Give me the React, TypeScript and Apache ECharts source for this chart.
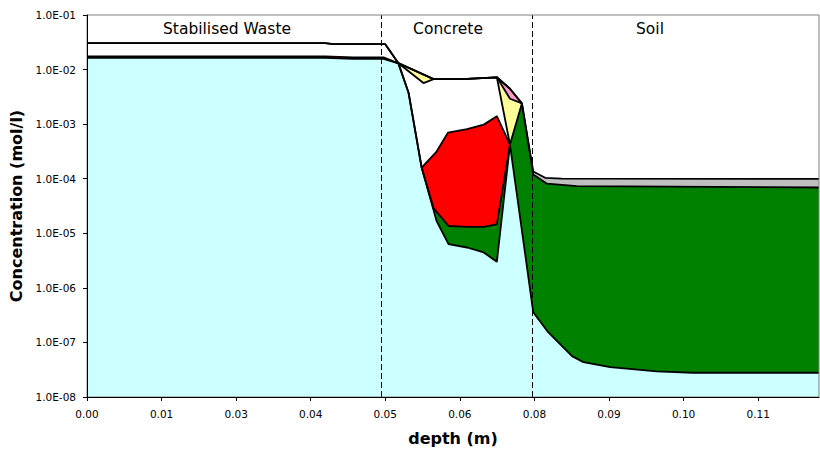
import React, { useEffect, useRef } from "react";
import * as echarts from "echarts";

// Depth axis: ticks every 0.0125 m, labels rounded to two decimals
const xTickStep = 0.0125;
const xTickLabels = ["0.00", "0.01", "0.03", "0.04", "0.05", "0.06", "0.08", "0.09", "0.10", "0.11"];
const depthMax = 0.1227;

// Concentration axis (log scale, one tick per decade)
const yTickLabels = ["1.0E-08", "1.0E-07", "1.0E-06", "1.0E-05", "1.0E-04", "1.0E-03", "1.0E-02", "1.0E-01"];
const concMin = 1e-8;
const concMax = 1e-1;

// Material interfaces (dashed lines) and zone names
const zoneEdges = [0.0494, 0.0747];
const zoneNames = ["Stabilised Waste", "Concrete", "Soil"];

// Upper edge of each stacked band: [depth (m), concentration (mol/l)]
const grayTop: [number, number][] = [
  [0, 3.04e-2], [0.0399, 3.04e-2], [0.0413, 2.92e-2], [0.05, 2.92e-2], [0.0522, 1.31e-2],
  [0.0581, 6.7e-3], [0.0637, 6.78e-3], [0.0687, 7.22e-3], [0.0709, 4.45e-3], [0.0729, 2.4e-3],
  [0.0748, 1.36e-4], [0.0768, 1.04e-4], [0.0796, 1.0e-4], [0.1227, 9.9e-5],
];
const pinkTop: [number, number][] = [
  [0.0687, 7.22e-3], [0.0709, 4.45e-3], [0.0729, 2.4e-3],
];
const yellowTop: [number, number][] = [
  [0.0522, 1.31e-2], [0.0581, 6.7e-3], [0.0637, 6.78e-3], [0.0687, 7.22e-3], [0.0709, 2.92e-3],
  [0.0729, 2.4e-3],
];
const whiteTop: [number, number][] = [
  [0, 3.04e-2], [0.0399, 3.04e-2], [0.0413, 2.92e-2], [0.05, 2.92e-2], [0.0522, 1.31e-2],
  [0.0564, 5.66e-3], [0.0581, 6.7e-3], [0.0637, 6.78e-3], [0.0687, 7.22e-3], [0.0709, 4.23e-4],
];
const redTop: [number, number][] = [
  [0, 1.75e-2], [0.0399, 1.75e-2], [0.0446, 1.67e-2], [0.0497, 1.67e-2], [0.0522, 1.3e-2],
  [0.0539, 3.76e-3], [0.0561, 1.59e-4], [0.0586, 3.15e-4], [0.0605, 7.0e-4], [0.0637, 8.11e-4],
  [0.0665, 9.8e-4], [0.0687, 1.4e-3], [0.0709, 4.23e-4],
];
const greenTop: [number, number][] = [
  [0.0561, 1.59e-4], [0.0581, 2.87e-5], [0.0606, 1.36e-5], [0.0637, 1.31e-5], [0.0665, 1.31e-5],
  [0.0687, 1.46e-5], [0.0709, 4.23e-4], [0.0729, 2.4e-3], [0.0748, 1.2e-4], [0.0771, 8.1e-5],
  [0.0821, 7.3e-5], [0.1227, 6.9e-5],
];
const cyanTop: [number, number][] = [
  [0, 1.64e-2], [0.0399, 1.64e-2], [0.0446, 1.57e-2], [0.0497, 1.57e-2], [0.0522, 1.3e-2],
  [0.0539, 3.76e-3], [0.0561, 1.59e-4], [0.0586, 1.68e-5], [0.0606, 6.31e-6], [0.0637, 5.49e-6],
  [0.0665, 4.45e-6], [0.0687, 3.0e-6], [0.0709, 4.23e-4], [0.0748, 3.57e-7], [0.0773, 1.54e-7],
  [0.0813, 5.61e-8], [0.0832, 4.36e-8], [0.0877, 3.53e-8], [0.0955, 2.94e-8], [0.1016, 2.78e-8],
  [0.1227, 2.78e-8],
];

// Bands painted from the outermost inwards, each filled down to the axis floor
const bands: { name: string; data: [number, number][]; color: string }[] = [
  { name: "gray", data: grayTop, color: "#C0C0C0" },
  { name: "pink", data: pinkTop, color: "#FF99CC" },
  { name: "yellow", data: yellowTop, color: "#FFFF99" },
  { name: "white", data: whiteTop, color: "#FFFFFF" },
  { name: "red", data: redTop, color: "#FF0000" },
  { name: "green", data: greenTop, color: "#008000" },
  { name: "cyan", data: cyanTop, color: "#CCFFFF" },
];

const FONT = "DejaVu Sans";

export default function App() {
  const ref = useRef<HTMLDivElement>(null);

  useEffect(() => {
    if (!ref.current) return;
    const chart = echarts.init(ref.current, undefined, { renderer: "svg" });

    const series: any[] = bands.map((b) => ({
      name: b.name,
      type: "line",
      data: b.data,
      symbol: "none",
      silent: true,
      lineStyle: { color: "#000", width: 1.8 },
      areaStyle: { color: b.color, opacity: 1, origin: "start" },
    }));

    // Dashed interface lines between the three materials
    series.push({
      name: "interfaces",
      type: "line",
      data: [],
      silent: true,
      markLine: {
        silent: true,
        symbol: "none",
        precision: 4,
        label: { show: false },
        lineStyle: { color: "#000", type: [6, 3], width: 1 },
        data: zoneEdges.map((d) => ({ xAxis: d })),
      },
    });

    const zoneLabelX = [227, 448, 650];
    const tickDepths = xTickLabels.map((_, i) => i * xTickStep);
    const tickConcs = yTickLabels.map((_, i) => Math.pow(10, i - 8));

    chart.setOption({
      animation: false,
      backgroundColor: "#fff",
      grid: {
        left: 87,
        right: 1,
        top: 15,
        bottom: 53,
        show: true,
        z: 10,
        borderColor: "#808080",
        borderWidth: 1,
        backgroundColor: "transparent",
      },
      xAxis: {
        type: "value",
        min: 0,
        max: depthMax,
        interval: xTickStep,
        z: 11,
        name: "depth (m)",
        nameLocation: "middle",
        nameGap: 33,
        nameTextStyle: { fontFamily: FONT, fontWeight: "bold", fontSize: 16, color: "#000" },
        axisLine: { lineStyle: { color: "#000", width: 1 } },
        axisTick: { length: 4, lineStyle: { color: "#000" }, customValues: tickDepths },
        axisLabel: {
          fontFamily: FONT,
          fontSize: 10.5,
          color: "#000",
          margin: 11,
          customValues: tickDepths,
          formatter: (v: number) => xTickLabels[Math.round(v / xTickStep)] ?? "",
        },
        splitLine: { show: false },
      },
      yAxis: {
        type: "log",
        logBase: 10,
        min: concMin,
        max: concMax,
        splitNumber: 7,
        z: 11,
        name: "Concentration (mol/l)",
        nameLocation: "middle",
        nameRotate: 90,
        nameGap: 57,
        nameTextStyle: { fontFamily: FONT, fontWeight: "bold", fontSize: 16, color: "#000" },
        axisLine: { show: true, lineStyle: { color: "#000", width: 1 } },
        axisTick: { show: true, length: 4, lineStyle: { color: "#000" }, customValues: tickConcs },
        axisLabel: {
          fontFamily: FONT,
          fontSize: 10.5,
          color: "#000",
          margin: 11,
          customValues: tickConcs,
          formatter: (v: number) => yTickLabels[Math.round(Math.log10(v)) + 8] ?? "",
        },
        splitLine: { show: false },
      },
      graphic: zoneNames.map((t, i) => ({
        type: "text",
        x: zoneLabelX[i],
        y: 29,
        z: 20,
        silent: true,
        style: {
          text: t,
          fill: "#000",
          font: `15.5px "${FONT}"`,
          textAlign: "center",
          textVerticalAlign: "middle",
        },
      })),
      series,
    });

    return () => chart.dispose();
  }, []);

  return (
    <div
      ref={ref}
      style={{ position: "fixed", left: 0, top: 0, width: 820, height: 451, background: "#fff" }}
    />
  );
}
